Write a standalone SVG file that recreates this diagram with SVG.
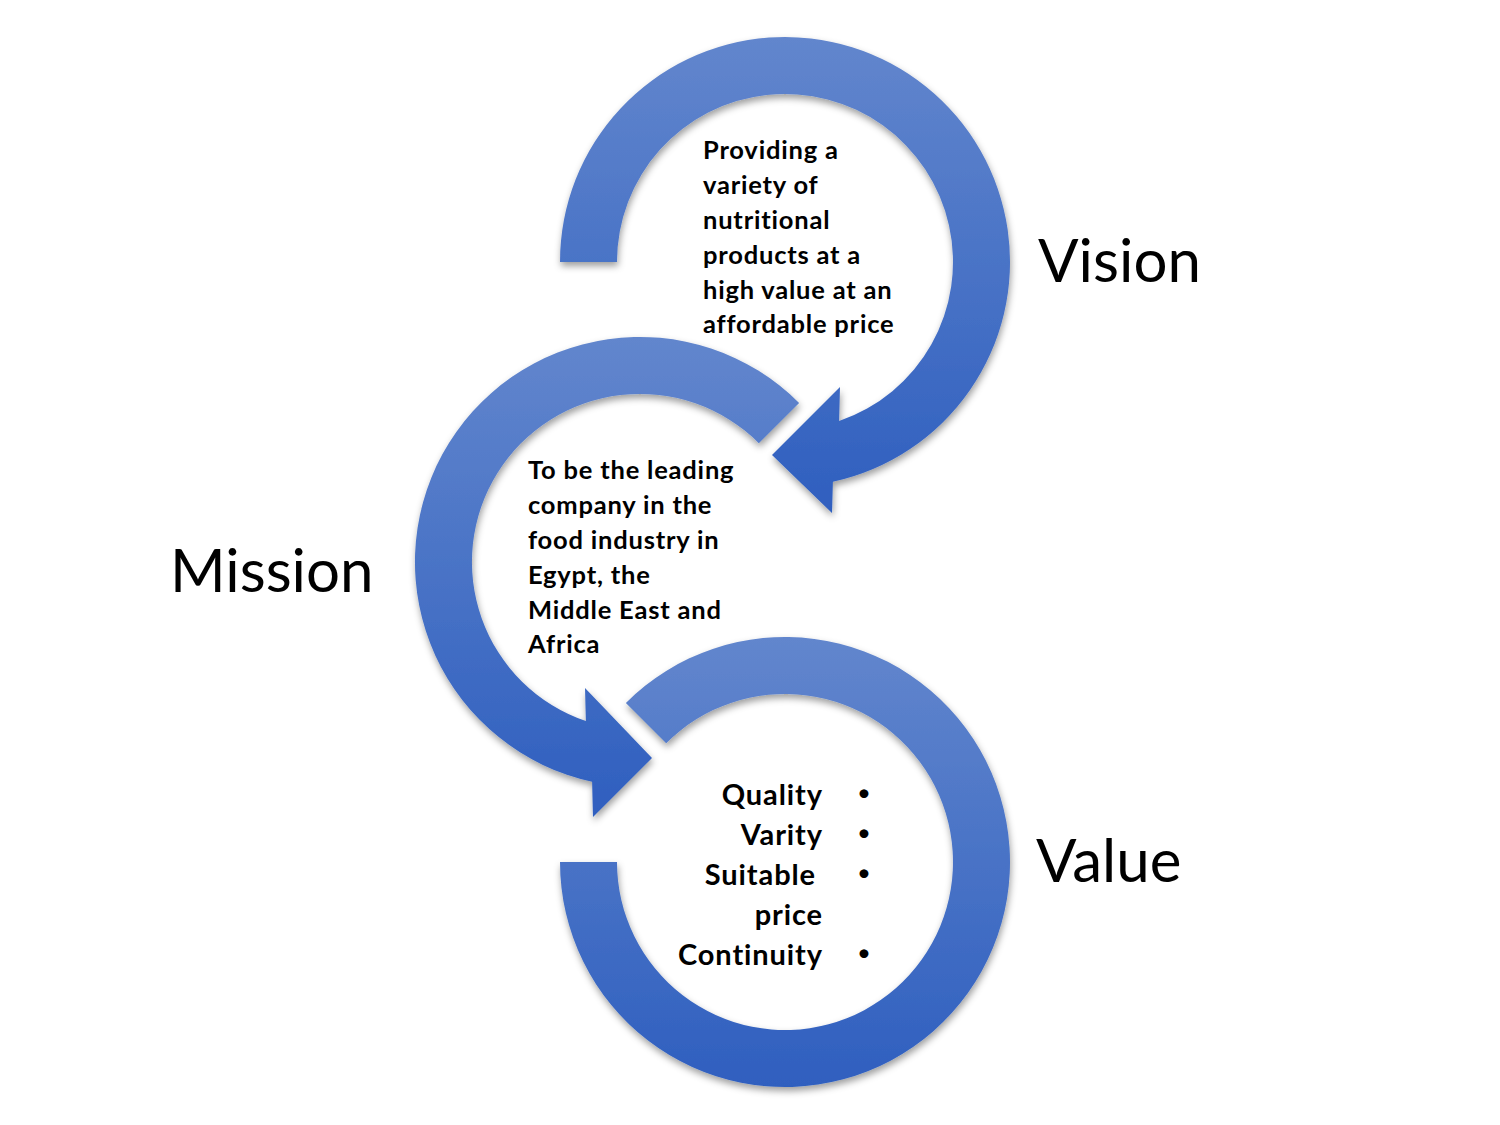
<svg xmlns="http://www.w3.org/2000/svg" width="1500" height="1125" viewBox="0 0 1500 1125">
<defs>
<linearGradient id="blueGrad" x1="0" y1="0" x2="0" y2="1">
<stop offset="0" stop-color="#6286cd"/>
<stop offset="1" stop-color="#2f5fbf"/>
</linearGradient>
<filter id="shadow" x="-10%" y="-10%" width="120%" height="125%">
<feGaussianBlur in="SourceAlpha" stdDeviation="3.5"/>
<feOffset dx="1" dy="4" result="b"/>
<feFlood flood-color="#000" flood-opacity="0.38"/>
<feComposite in2="b" operator="in"/>
<feMerge><feMergeNode/><feMergeNode in="SourceGraphic"/></feMerge>
</filter>
<style>
.arc{fill:url(#blueGrad);filter:url(#shadow);}
.body{font-family:Lato,"Open Sans","Liberation Sans",sans-serif;font-weight:bold;fill:#000;}
.small{font-size:25.5px;letter-spacing:0.8px;}
.list{font-size:29px;letter-spacing:0.9px;text-anchor:end;}
.bullet{font-family:Lato,"Liberation Sans",sans-serif;font-size:24px;fill:#000;text-anchor:middle;}
.label{font-family:Lato,"Open Sans","Liberation Sans",sans-serif;font-weight:normal;fill:#000;font-size:60px;}
</style>
</defs>
<rect width="1500" height="1125" fill="#fff"/>
<g id="connectors">
<path id="arc-value" class="arc" d="M560,862 A225,225 0 1 0 625.9,702.9 L666.2,743.2 A168,168 0 1 1 617,862 Z"/>
<path id="arc-mission" class="arc" d="M799.1,402.9 A225,225 0 1 0 592.1,781.8 L593,817 L652,758 L585,688 L585.9,721 A168,168 0 1 1 758.8,443.2 Z"/>
<path id="arc-vision" class="arc" d="M560,262 A225,225 0 1 1 832.9,481.8 L832,513 L772,455 L840,387 L839.1,421 A168,168 0 1 0 617,262 Z"/>
</g>
<g id="vision">
<text class="body small">
<tspan x="703" y="159">Providing a</tspan>
<tspan x="703" y="194">variety of</tspan>
<tspan x="703" y="229">nutritional</tspan>
<tspan x="703" y="264">products at a</tspan>
<tspan x="703" y="299">high value at an</tspan>
<tspan x="703" y="333">affordable price</tspan>
</text>
<text class="label" x="1038" y="282">Vision</text>
</g>
<g id="mission">
<text class="body small">
<tspan x="528" y="479">To be the leading</tspan>
<tspan x="528" y="514">company in the</tspan>
<tspan x="528" y="549">food industry in</tspan>
<tspan x="528" y="584">Egypt, the</tspan>
<tspan x="528" y="619">Middle East and</tspan>
<tspan x="528" y="653">Africa</tspan>
</text>
<text class="label" x="170" y="592">Mission</text>
</g>
<g id="value">
<text class="body list" x="823" y="805">Quality</text>
<text class="body list" x="823" y="845">Varity</text>
<text class="body list" x="816" y="885">Suitable</text>
<text class="body list" x="823" y="925">price</text>
<text class="body list" x="823" y="965">Continuity</text>
<text class="bullet" x="864" y="801">•</text>
<text class="bullet" x="864" y="841">•</text>
<text class="bullet" x="864" y="881">•</text>
<text class="bullet" x="864" y="961">•</text>
<text class="label" x="1036" y="882">Value</text>
</g>
</svg>
